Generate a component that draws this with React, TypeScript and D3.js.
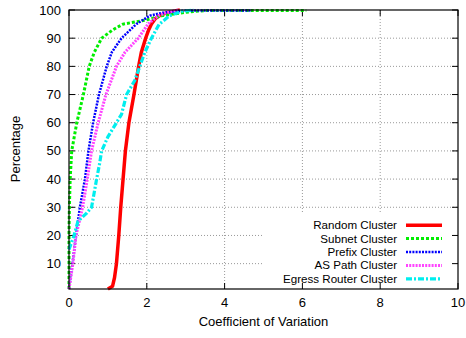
import React from "react";
import * as d3 from "d3";

const randomX = [1.0, 1.12, 1.17, 1.22, 1.28, 1.33, 1.39, 1.45, 1.54, 1.67, 1.79, 1.86, 1.97, 2.05, 2.12, 2.22, 2.33, 2.5, 2.85];
const randomY = [1, 2, 5, 10, 20, 30, 40, 50, 60, 70, 80, 85, 90, 93, 95, 97, 98, 99, 100];

const subnetX = [0, 0, 0.01, 0.03, 0.07, 0.2, 0.37, 0.52, 0.65, 0.84, 1.13, 1.39, 2.0, 2.4, 3.0, 3.5, 6.1];
const subnetY = [1, 21, 30, 40, 50, 60, 70, 80, 85, 90, 93, 95, 96.5, 98, 99.2, 99.8, 99.8];

const prefixX = [0, 0.09, 0.18, 0.28, 0.41, 0.5, 0.62, 0.77, 0.97, 1.1, 1.35, 1.73, 2.08, 2.4, 3.0, 4.7];
const prefixY = [1, 10, 20, 30, 40, 50, 60, 70, 80, 85, 90, 95, 98, 99, 99.8, 99.8];

const asPathX = [0, 0.1, 0.18, 0.35, 0.47, 0.58, 0.75, 0.95, 1.22, 1.44, 1.78, 2.03, 2.3, 2.5, 2.8];
const asPathY = [1, 10, 20, 30, 40, 50, 60, 70, 80, 85, 90, 95, 98, 99, 100];

const egressX = [0, 0.13, 0.23, 0.46, 0.58, 0.71, 0.78, 0.84, 1.0, 1.22, 1.35, 1.48, 1.69, 1.82, 1.95, 2.12, 2.32, 2.59, 2.9, 3.2];
const egressY = [15, 20, 25, 28, 30, 40, 45, 50, 55, 60, 63, 70, 75, 80, 85, 90, 95, 98, 99.5, 100];

const seriesNames = ["Random Cluster", "Subnet Cluster", "Prefix Cluster", "AS Path Cluster", "Egress Router Cluster"];
const xTicks = [0, 2, 4, 6, 8, 10];
const yTicks = [10, 20, 30, 40, 50, 60, 70, 80, 90, 100];

const styles = [
  { color: "#ff0000", width: 3.5, dash: "" },
  { color: "#00ee00", width: 3, dash: "3,2" },
  { color: "#0000ff", width: 2.5, dash: "2,1.2" },
  { color: "#ff44ff", width: 3, dash: "2,1.2" },
  { color: "#00eeee", width: 3.2, dash: "6,2,2,2" },
];

const seriesData = [
  [randomX, randomY],
  [subnetX, subnetY],
  [prefixX, prefixY],
  [asPathX, asPathY],
  [egressX, egressY],
];

export default function App() {
  const W = 466, H = 338;
  const L = 69, R = 458, T = 10, B = 289;
  const x = d3.scaleLinear().domain([0, 10]).range([L, R]);
  const y = d3.scaleLinear().domain([1, 100]).range([B, T]);
  const line = d3.line<[number, number]>().x(d => x(d[0])).y(d => y(d[1]));
  const font = "'Liberation Sans', Arial, Helvetica, sans-serif";
  const tick = 6;
  const legX1 = 406, legX2 = 442, legTextX = 397;
  const legY0 = 225.2, legDy = 13.4;

  return (
    <svg width={W} height={H} style={{ position: "absolute", left: 0, top: 0, background: "#fff" }} fontFamily={font} fontSize={13}>
      <rect x={0} y={0} width={W} height={H} fill="#fff" />
      {/* grid */}
      {xTicks.filter(t => t > 0 && t < 10).map(t => (
        <line key={"gx" + t} x1={x(t)} x2={x(t)} y1={T} y2={B} stroke="#999" strokeWidth={1} strokeDasharray="1,2" />
      ))}
      {yTicks.filter(t => t < 100).map(t => (
        <line key={"gy" + t} x1={L} x2={R} y1={y(t)} y2={y(t)} stroke="#999" strokeWidth={1} strokeDasharray="1,2" />
      ))}
      {/* legend background */}
      <rect x={262} y={213} width={R - 262 - 1} height={B - 213 - 1} fill="#fff" />
      {/* ticks */}
      {xTicks.map(t => (
        <g key={"tx" + t}>
          <line x1={x(t)} x2={x(t)} y1={B} y2={B - tick} stroke="#000" />
          <line x1={x(t)} x2={x(t)} y1={T} y2={T + tick} stroke="#000" />
          <text x={x(t)} y={307} textAnchor="middle">{t}</text>
        </g>
      ))}
      {yTicks.map(t => (
        <g key={"ty" + t}>
          <line x1={L} x2={L + tick} y1={y(t)} y2={y(t)} stroke="#000" />
          <line x1={R} x2={R - tick} y1={y(t)} y2={y(t)} stroke="#000" />
          <text x={61} y={y(t)} dy="0.35em" textAnchor="end">{t}</text>
        </g>
      ))}
      {/* series */}
      {seriesData.map(([xs, ys], i) => {
        const pts = xs.map((v, j) => [v, ys[j]] as [number, number]);
        return (
          <path key={"s" + i} d={line(pts) || ""} fill="none" stroke={styles[i].color}
            strokeWidth={styles[i].width} strokeDasharray={styles[i].dash || undefined} />
        );
      })}
      {/* border */}
      <rect x={L} y={T} width={R - L} height={B - T} fill="none" stroke="#000" strokeWidth={1.2} />
      {/* legend */}
      {seriesNames.map((n, i) => (
        <g key={"l" + i}>
          <text x={legTextX} y={legY0 + i * legDy} dy="0.35em" textAnchor="end" fontSize={11.6}
            textLength={undefined}>{n}</text>
          <line x1={legX1} x2={legX2} y1={legY0 + i * legDy} y2={legY0 + i * legDy}
            stroke={styles[i].color} strokeWidth={styles[i].width} strokeDasharray={styles[i].dash || undefined} />
        </g>
      ))}
      {/* axis titles */}
      <text x={263.5} y={326} textAnchor="middle">Coefficient of Variation</text>
      <text transform="translate(20,149) rotate(-90)" textAnchor="middle">Percentage</text>
    </svg>
  );
}
